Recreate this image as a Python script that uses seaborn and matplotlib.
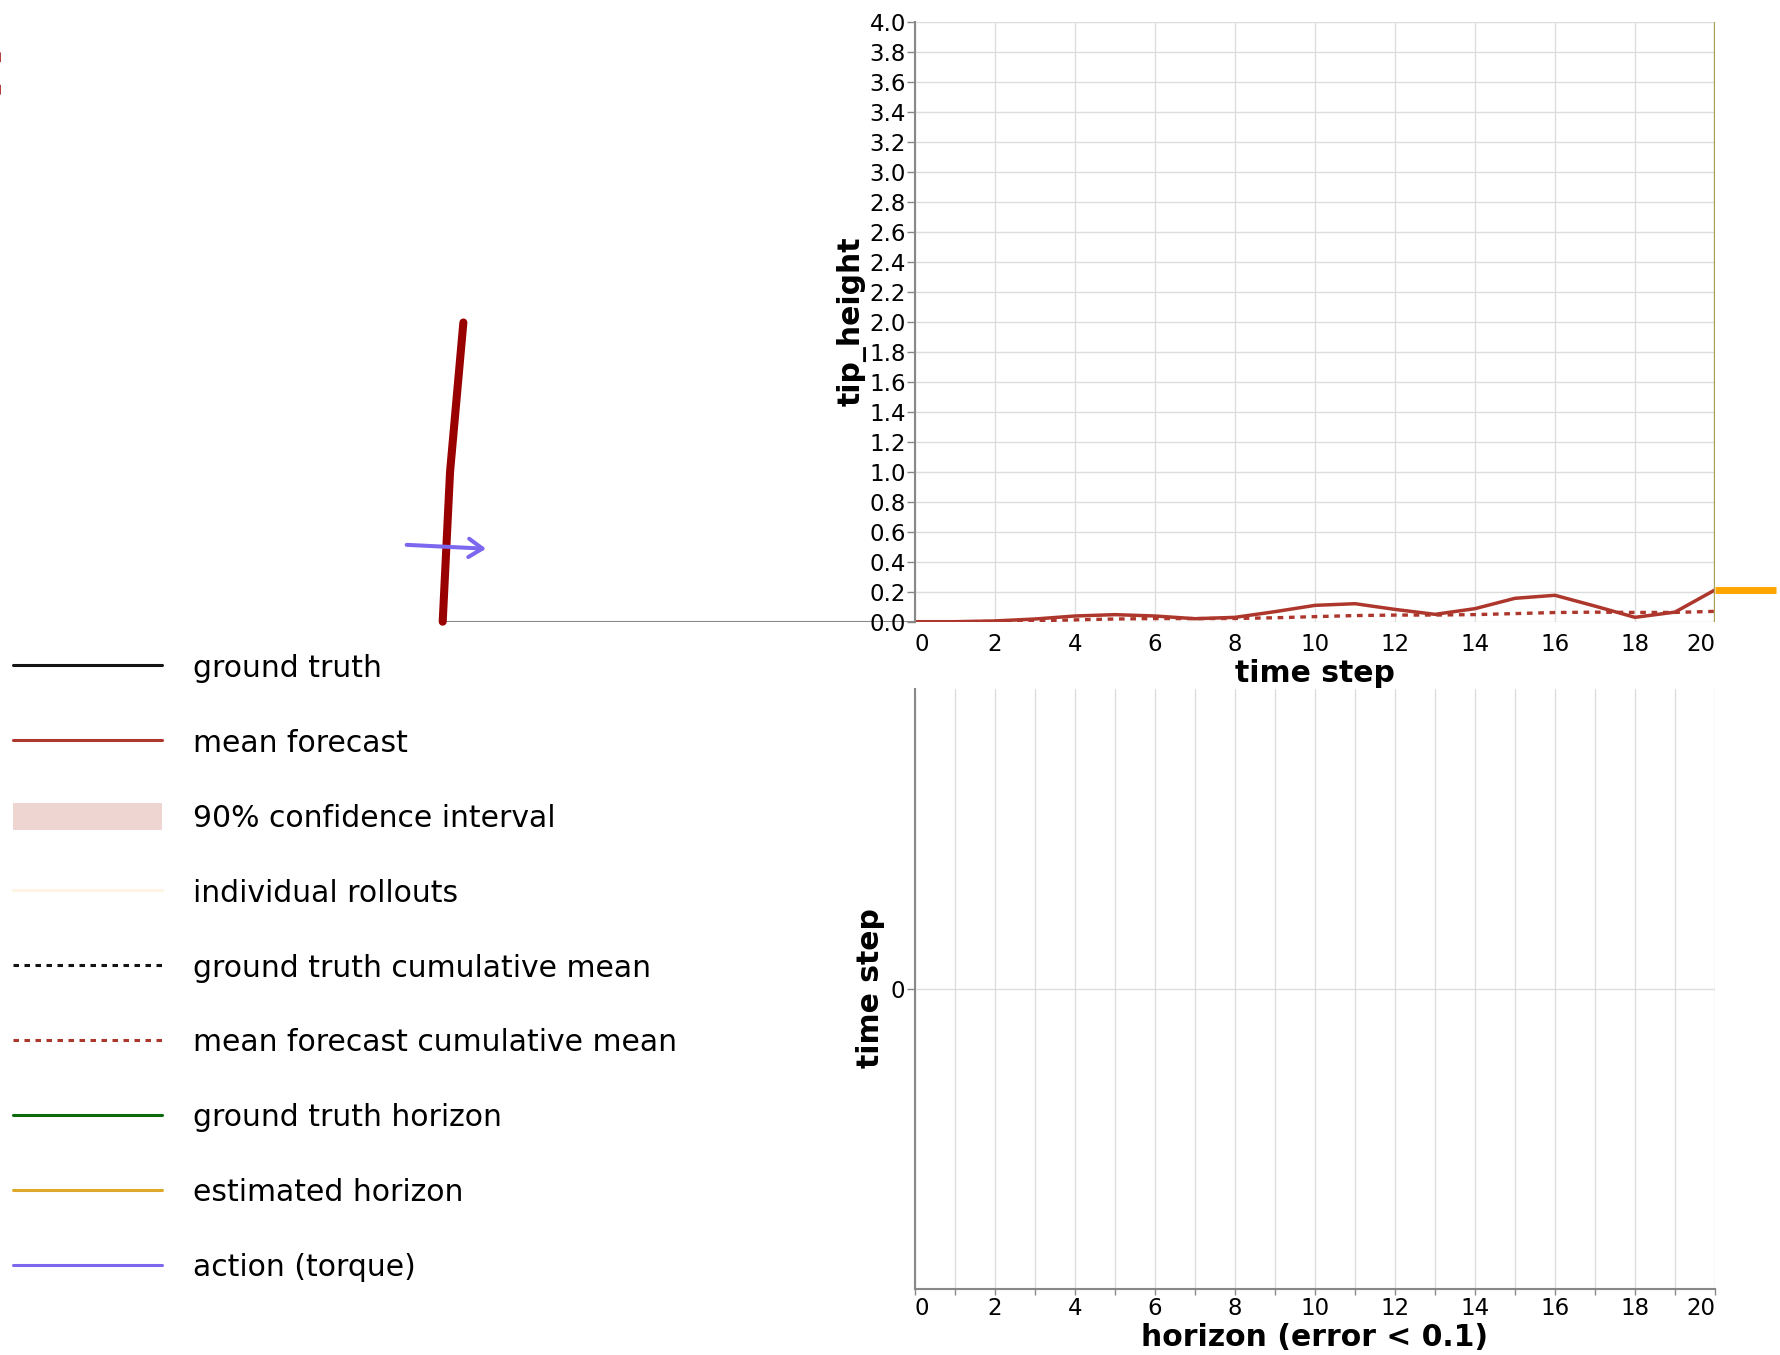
import numpy as np
import pandas as pd
import matplotlib
matplotlib.use("Agg")
import matplotlib.pyplot as plt
from matplotlib.lines import Line2D
from matplotlib.patches import Patch
import seaborn as sns

# ---- data -------------------------------------------------------------
time_steps = list(range(21))
mean_forecast = [0.0, 0.0, 0.005, 0.018, 0.038, 0.047, 0.038, 0.020, 0.029,
                 0.067, 0.109, 0.120, 0.082, 0.049, 0.087, 0.156, 0.176,
                 0.104, 0.029, 0.064, 0.212]
ground_truth_horizon = 20
estimated_horizon = 20

# pendulum state: link angles (rad from vertical), link lengths, torque
link_angles = [0.049, 0.089]
link_lengths = [1.0, 1.0]
torque = 0.53

y_ticks = [round(0.2 * i, 1) for i in range(21)]
top_x_ticks = list(range(0, 21, 2))
bottom_x_ticks = list(range(0, 21))
horizon_rows = ["0"]

legend_labels = ["ground truth", "mean forecast", "90% confidence interval",
                 "individual rollouts", "ground truth cumulative mean",
                 "mean forecast cumulative mean", "ground truth horizon",
                 "estimated horizon", "action (torque)"]

# ---- style ------------------------------------------------------------
sns.set_theme(style="white")
plt.rcParams["font.family"] = ["DejaVu Sans"]
plt.rcParams["text.color"] = "black"
plt.rcParams["axes.labelcolor"] = "black"
plt.rcParams["xtick.color"] = "black"
plt.rcParams["ytick.color"] = "black"

C_TRUTH = "#141414"
C_MEAN = "#ad372c"
C_CI = "#efd5d2"
C_ROLL = "#fff3e4"
C_GT_HOR = "#0b6b0b"
C_EST_HOR = "#e0a82a"
C_ACTION = "#7b68ee"
C_PEND = "#990000"
C_AXIS = "#888888"
C_GRID = "#dddddd"

W, H = 1781, 1355
fig = plt.figure(figsize=(W / 100, H / 100), dpi=100)


def px_rect(x0, y0, x1, y1):
    return [x0 / W, 1 - y1 / H, (x1 - x0) / W, (y1 - y0) / H]


TICK_FS = 16.5
TITLE_FS = 21.5

# ---- pendulum ---------------------------------------------------------
axp = fig.add_axes(px_rect(0, 21.7, 915, 621.7), zorder=0)
axp.set_xlim(-442.7 / 150, (915 - 442.7) / 150)
axp.set_ylim(0, 4)
axp.axis("off")

a1, a2 = link_angles
l1, l2 = link_lengths
jx, jy = l1 * np.sin(a1), l1 * np.cos(a1)
tx, ty = jx + l2 * np.sin(a2), jy + l2 * np.cos(a2)
axp.plot([0, axp.get_xlim()[1]], [0, 0], color=C_AXIS, lw=1.5,
         solid_capstyle="butt")
axp.plot([0, jx, tx], [0, jy, ty], color=C_PEND, lw=5.8,
         solid_capstyle="round", solid_joinstyle="round", clip_on=False)
mx, my = 0.5 * jx, 0.5 * jy
px_, py_ = np.cos(a1), -np.sin(a1)
axp.annotate("", xy=(mx + 0.5 * torque * px_, my + 0.5 * torque * py_),
             xytext=(mx - 0.5 * torque * px_, my - 0.5 * torque * py_),
             arrowprops=dict(arrowstyle="->,head_length=0.45,head_width=0.3",
                             color=C_ACTION, lw=2.9, shrinkA=0, shrinkB=0,
                             mutation_scale=22))

fig.text(4.5 / W, 1 - 97 / H, "C", color=C_PEND, fontsize=46,
         fontweight="bold", ha="right", va="baseline")

# ---- tip height forecast ----------------------------------------------
ax = fig.add_axes(px_rect(915, 21.7, 1715, 621.7), zorder=1)
ax.patch.set_alpha(0)
df = pd.DataFrame({"time step": time_steps, "tip_height": mean_forecast})
df["cumulative mean"] = df["tip_height"].expanding().mean()

sns.lineplot(data=df, x="time step", y="cumulative mean", ax=ax,
             color=C_MEAN, lw=2.4, linestyle=(0, (1.7, 1.7)))
sns.lineplot(data=df, x="time step", y="tip_height", ax=ax,
             color=C_MEAN, lw=2.5)
ax.axvline(ground_truth_horizon, color="#aca152", lw=2.4)
last = mean_forecast[-1]
ax.plot([estimated_horizon, estimated_horizon + 1.52], [last, last],
        color="#ffa500", lw=5, clip_on=False, solid_capstyle="butt")

ax.set_xlim(0, 20)
ax.set_ylim(0, 4)
ax.set_xticks(top_x_ticks)
ax.set_xticklabels([str(t) for t in top_x_ticks])
ax.set_yticks(y_ticks)
ax.set_yticklabels([f"{v:.1f}" for v in y_ticks])
ax.grid(True, color=C_GRID, lw=1)
ax.set_axisbelow(True)
for s in ["top", "right", "bottom"]:
    ax.spines[s].set_visible(False)
ax.spines["left"].set_color(C_AXIS)
ax.spines["left"].set_linewidth(1.5)
ax.tick_params(axis="x", length=0, pad=8, labelsize=TICK_FS,
               labelcolor="black")
ax.tick_params(axis="y", length=5.5, width=1, color=C_AXIS, pad=1,
               labelsize=TICK_FS, labelcolor="black", left=True)
xl = ax.get_xticklabels()
xl[0].set_ha("left")
xl[-1].set_ha("right")
ax.set_xlabel("time step", fontsize=TITLE_FS, fontweight="bold", labelpad=2,
              color="black")
ax.set_ylabel("tip_height", fontsize=TITLE_FS, fontweight="bold", labelpad=2,
              color="black")

# ---- horizon panel ----------------------------------------------------
axb = fig.add_axes(px_rect(915, 688.5, 1715, 1288.5), zorder=1)
axb.set_xlim(0, 20)
axb.set_ylim(-0.5, 0.5)
axb.set_xticks(bottom_x_ticks)
axb.set_xticklabels([str(t) if t % 2 == 0 else "" for t in bottom_x_ticks])
axb.set_yticks([0])
axb.set_yticklabels(horizon_rows)
axb.grid(True, color=C_GRID, lw=1)
axb.set_axisbelow(True)
for s in ["top", "right"]:
    axb.spines[s].set_visible(False)
for s in ["left", "bottom"]:
    axb.spines[s].set_color(C_AXIS)
    axb.spines[s].set_linewidth(1.5)
axb.tick_params(axis="x", length=4, width=1, color=C_AXIS, pad=2,
                labelsize=TICK_FS, labelcolor="black", bottom=True)
axb.tick_params(axis="y", length=6, width=1, color=C_AXIS, pad=1,
                labelsize=TICK_FS, labelcolor="black", left=True)
bl = axb.get_xticklabels()
bl[0].set_ha("left")
bl[-1].set_ha("right")
axb.set_xlabel("horizon (error < 0.1)", fontsize=TITLE_FS, fontweight="bold",
               labelpad=2, color="black")
axb.set_ylabel("time step", fontsize=TITLE_FS, fontweight="bold", labelpad=4,
               color="black")

# ---- legend -----------------------------------------------------------
handles = [
    Line2D([], [], color=C_TRUTH, lw=2.2),
    Line2D([], [], color=C_MEAN, lw=2.2),
    Patch(facecolor=C_CI, edgecolor="none"),
    Line2D([], [], color=C_ROLL, lw=2.2),
    Line2D([], [], color=C_TRUTH, lw=2.2, linestyle=(0, (1.8, 1.8))),
    Line2D([], [], color=C_MEAN, lw=2.2, linestyle=(0, (1.8, 1.8))),
    Line2D([], [], color=C_GT_HOR, lw=2.2),
    Line2D([], [], color=C_EST_HOR, lw=2.2),
    Line2D([], [], color=C_ACTION, lw=2.2),
]
leg = fig.legend(handles, legend_labels, loc="upper left",
                 bbox_to_anchor=(13 / W, 1 - 653 / H), frameon=False,
                 fontsize=TITLE_FS, handlelength=5.0, handleheight=1.0,
                 handletextpad=1.03, labelspacing=1.52, borderpad=0,
                 borderaxespad=0)
for t in leg.get_texts():
    t.set_color("black")

fig.savefig("out.png", dpi=100)
